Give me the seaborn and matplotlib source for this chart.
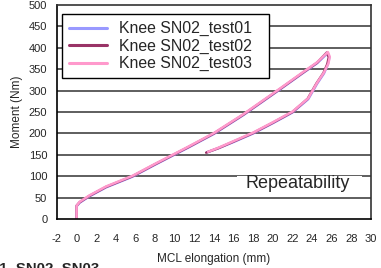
import matplotlib
matplotlib.use("Agg")
import matplotlib.pyplot as plt
import seaborn as sns
import pandas as pd

# ---- data ----
series_names = ["Knee SN02_test01", "Knee SN02_test02", "Knee SN02_test03"]
colors = ["#9999ff", "#993366", "#ff99cc"]

elong_test01 = [0, 0, 0.3, 1.3, 3, 5.7, 8, 11.3, 14, 17, 20.8, 23, 24.5, 25.6,
                25.75, 25.6, 25.2, 24.5, 23.6, 22, 20, 18, 16, 14.5, 13.3]
moment_test01 = [0, 30, 38, 53, 74, 99, 127, 166, 199, 243, 304, 340, 364, 388,
                 377, 361, 340, 316, 280, 249, 224, 200, 180, 166, 156]

elong_test02 = [0, 0, 0.3, 1.3, 3, 5.7, 8, 11.3, 14, 17, 20.8, 23, 24.5, 25.5,
                25.7, 25.55, 25.15, 24.45, 23.55, 22, 20, 18, 16, 14.5, 13.2]
moment_test02 = [0, 31, 39, 54, 75, 100, 128, 167, 200, 244, 305, 341, 365, 389,
                 378, 362, 341, 317, 281, 250, 225, 201, 181, 166, 155]

elong_test03 = [0, 0, 0.3, 1.3, 3, 5.7, 8, 11.3, 14, 17, 20.8, 23, 24.5, 25.6,
                25.8, 25.65, 25.2, 24.5, 23.6, 22, 20, 18, 16, 14.5, 13.4]
moment_test03 = [0, 31, 40, 55, 76, 101, 129, 168, 201, 245, 306, 342, 366, 390,
                 379, 363, 342, 318, 282, 251, 226, 202, 182, 167, 157]

x_ticks = list(range(-2, 31, 2))
y_ticks = list(range(0, 501, 50))

frames = []
for name, xs, ys in zip(series_names,
                        [elong_test01, elong_test02, elong_test03],
                        [moment_test01, moment_test02, moment_test03]):
    frames.append(pd.DataFrame({"elong": xs, "moment": ys, "test": name}))
df = pd.concat(frames, ignore_index=True)

sns.set_style("white")
plt.rcParams["font.family"] = ["Liberation Sans", "DejaVu Sans"]

fig = plt.figure(figsize=(3.81, 2.68), dpi=100)
ax = fig.add_axes([57 / 381, 1 - 219 / 268, (371 - 57) / 381, (219 - 5) / 268])

for name, c in zip(series_names, colors):
    sub = df[df["test"] == name]
    sns.lineplot(data=sub, x="elong", y="moment", sort=False, color=c,
                 linewidth=1.8, ax=ax, label=name, estimator=None)

ax.set_xlim(-2, 30)
ax.set_ylim(0, 500)
ax.set_xticks(x_ticks)
ax.set_yticks(y_ticks)
ax.set_xticklabels([str(t) for t in x_ticks], fontsize=8)
ax.set_yticklabels([str(t) for t in y_ticks], fontsize=8)
ax.tick_params(axis="x", direction="in", length=3, width=1, pad=11, color="black")
ax.tick_params(axis="y", direction="in", length=3, width=1, pad=7, color="black")

ax.grid(False)
for yv in y_ticks[1:-1]:
    ax.axhline(yv, color="#333333", linewidth=1.1, zorder=0.5)

for s in ["left", "bottom"]:
    ax.spines[s].set_color("black")
    ax.spines[s].set_linewidth(1.2)
for s in ["top", "right"]:
    ax.spines[s].set_color("#333333")
    ax.spines[s].set_linewidth(1.2)

ax.set_xlabel("MCL elongation (mm)", fontsize=8.5, labelpad=6)
ax.set_ylabel("Moment (Nm)", fontsize=8.5, labelpad=4)

leg = ax.legend(loc="upper left",
                bbox_to_anchor=(5 / 314, 0, 207 / 314, (219 - 14) / 214),
                mode="expand", borderaxespad=0,
                fontsize=11.4, frameon=True, fancybox=False, edgecolor="black",
                framealpha=1, handlelength=2.4, handletextpad=0.75,
                labelspacing=0.15, borderpad=0.45)
leg.get_frame().set_linewidth(1.0)
for line in leg.get_lines():
    line.set_linewidth(2.2)

ax.add_patch(plt.Rectangle((180 / 314, 0.13), 125 / 314, 0.07, transform=ax.transAxes,
                           facecolor="white", edgecolor="none", zorder=1))
ax.text(293 / 314, (219 - 183) / 214, "Repeatability", transform=ax.transAxes,
        fontsize=13, ha="right", va="center", zorder=2)

fig.text(100 / 381, 1 - 262 / 268, "SN01_SN02_SN03", fontsize=10.8, fontweight="bold",
         ha="right", va="top")

fig.savefig("out.png", dpi=100)
